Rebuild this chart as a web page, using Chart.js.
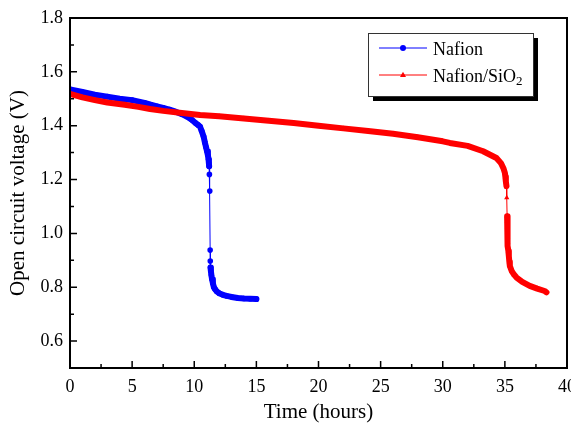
<!DOCTYPE html>
<html>
<head>
<meta charset="utf-8">
<script src="https://cdn.jsdelivr.net/npm/chart.js@4.4.1/dist/chart.umd.min.js"></script>
<style>
  html, body { margin: 0; padding: 0; background: #fff; }
  #wrap { width: 571px; height: 425px; }
</style>
</head>
<body>
<div id="wrap"><canvas id="c" width="571" height="425"></canvas></div>
<script>
/* OCV 放電曲線 — Nafion vs Nafion/SiO2 */

const nafionTime = [0, 1, 2, 3, 4, 5, 6, 6.5, 7, 7.5, 8, 8.5, 9, 9.4, 9.8, 10.1, 10.3, 10.46, 10.6, 10.75,
  10.86, 10.95, 11.03, 11.1, 11.15, 11.18, 11.2, 11.22, 11.25, 11.28, 11.29, 11.31, 11.34, 11.38, 11.43,
  11.5, 11.58, 11.67, 11.8, 12.0, 12.3, 12.6, 13.0, 13.5, 14.0, 14.5, 15.0];
const nafionVolt = [1.535, 1.525, 1.515, 1.508, 1.5, 1.495, 1.485, 1.478, 1.472, 1.466, 1.46, 1.452, 1.443,
  1.434, 1.422, 1.41, 1.403, 1.397, 1.38, 1.36, 1.337, 1.32, 1.305, 1.29, 1.275, 1.26, 1.249, 1.219, 1.157,
  0.938, 0.897, 0.873, 0.86, 0.845, 0.83, 0.815, 0.8, 0.793, 0.785, 0.778, 0.772, 0.768, 0.764, 0.76, 0.758,
  0.757, 0.756];

const sio2Time = [0, 1, 2, 3, 4.4, 5.5, 6.44, 7.5, 9, 10.46, 12, 14, 16, 18, 20, 22, 24, 26, 28, 30, 30.57,
  32, 33.25, 34.32, 34.7, 34.9, 35.0, 35.04, 35.08, 35.13, 35.15, 35.18, 35.19, 35.2, 35.21, 35.22, 35.23,
  35.25, 35.28, 35.32, 35.36, 35.4, 35.55, 35.75, 35.94, 36.4, 37.0, 37.6, 38.2, 38.35];
const sio2Volt = [1.518, 1.505, 1.495, 1.486, 1.478, 1.47, 1.462, 1.455, 1.447, 1.44, 1.435, 1.427, 1.418,
  1.41, 1.4, 1.39, 1.38, 1.37, 1.357, 1.342, 1.336, 1.325, 1.305, 1.28, 1.26, 1.24, 1.225, 1.21, 1.192, 1.175,
  1.132, 1.064, 1.044, 1.025, 1.005, 0.985, 0.968, 0.953, 0.935, 0.915, 0.895, 0.879, 0.86, 0.846, 0.836,
  0.82, 0.805, 0.795, 0.786, 0.781];

const xTicks = [0, 5, 10, 15, 20, 25, 30, 35, 40];
const yTicks = [0.6, 0.8, 1.0, 1.2, 1.4, 1.6, 1.8];

const SERIF = "'Liberation Serif', 'Times New Roman', serif";
const BLUE = "#0000FF";
const RED = "#FF0000";

function toPoints(xs, ys) {
  return xs.map((x, i) => ({ x, y: ys[i] }));
}

// 急降下区間（ほぼ垂直）は細線、それ以外は点が密集した太い帯に見せる
function segWidth(xs, ys) {
  return (ctx) => {
    const dy = Math.abs(ys[ctx.p1DataIndex] - ys[ctx.p0DataIndex]);
    const dx = Math.abs(xs[ctx.p1DataIndex] - xs[ctx.p0DataIndex]);
    return dy > 0.021 && dx < 0.1 ? 1 : 6;
  };
}

function drawMarker(ctx, style, x, y, r, color) {
  ctx.fillStyle = color;
  ctx.beginPath();
  if (style === "triangle") {
    ctx.moveTo(x, y - r * 1.1);
    ctx.lineTo(x + r, y + r * 0.7);
    ctx.lineTo(x - r, y + r * 0.7);
    ctx.closePath();
  } else {
    ctx.arc(x, y, r, 0, Math.PI * 2);
  }
  ctx.fill();
}

const framePlugin = {
  id: "frame",
  afterDraw(chart) {
    const { ctx, chartArea: a, scales } = chart;
    ctx.save();
    ctx.strokeStyle = "#000";
    ctx.lineWidth = 2;
    ctx.strokeRect(a.left, a.top, a.right - a.left, a.bottom - a.top);
    ctx.lineWidth = 1.5;
    ctx.beginPath();
    for (let v = 0; v <= 40; v += 2.5) {
      const px = scales.x.getPixelForValue(v);
      const len = v % 5 === 0 ? 7 : 4;
      ctx.moveTo(px, a.bottom);
      ctx.lineTo(px, a.bottom - len);
    }
    for (let k = 5; k <= 18; k++) {
      const py = scales.y.getPixelForValue(k / 10);
      const len = k % 2 === 0 ? 7 : 4;
      ctx.moveTo(a.left, py);
      ctx.lineTo(a.left + len, py);
    }
    ctx.stroke();
    ctx.restore();
  },
};

const legendPlugin = {
  id: "boxLegend",
  afterDraw(chart) {
    const ctx = chart.ctx;
    const bx = 368, by = 33, bw = 165, bh = 63;
    ctx.save();
    ctx.fillStyle = "#000";
    ctx.fillRect(bx + 5, by + 5, bw, bh);
    ctx.fillStyle = "#fff";
    ctx.fillRect(bx, by, bw, bh);
    ctx.strokeStyle = "#333";
    ctx.lineWidth = 1;
    ctx.strokeRect(bx + 0.5, by + 0.5, bw, bh);

    const rows = [
      { label: "Nafion", color: BLUE, style: "circle", y: 48 },
      { label: "Nafion/SiO", sub: "2", color: RED, style: "triangle", y: 75 },
    ];
    for (const r of rows) {
      ctx.strokeStyle = r.color;
      ctx.lineWidth = 1;
      ctx.beginPath();
      ctx.moveTo(379, r.y);
      ctx.lineTo(427, r.y);
      ctx.stroke();
      drawMarker(ctx, r.style, 403, r.y, 3, r.color);
      ctx.fillStyle = "#000";
      ctx.font = "18px " + SERIF;
      ctx.textBaseline = "middle";
      ctx.textAlign = "left";
      ctx.fillText(r.label, 433, r.y + 2);
      if (r.sub) {
        const w = ctx.measureText(r.label).width;
        ctx.font = "13px " + SERIF;
        ctx.fillText(r.sub, 433 + w, r.y + 7);
      }
    }
    ctx.restore();
  },
};

new Chart(document.getElementById("c"), {
  type: "line",
  data: {
    datasets: [
      {
        label: "Nafion/SiO₂",
        data: toPoints(sio2Time, sio2Volt),
        borderColor: RED,
        backgroundColor: RED,
        pointStyle: "triangle",
        pointRadius: 3,
        pointBorderWidth: 0,
        borderCapStyle: "round",
        borderJoinStyle: "round",
        segment: { borderWidth: segWidth(sio2Time, sio2Volt) },
        order: 0,
      },
      {
        label: "Nafion",
        data: toPoints(nafionTime, nafionVolt),
        borderColor: BLUE,
        backgroundColor: BLUE,
        pointStyle: "circle",
        pointRadius: 2.8,
        pointBorderWidth: 0,
        borderCapStyle: "round",
        borderJoinStyle: "round",
        segment: { borderWidth: segWidth(nafionTime, nafionVolt) },
        order: 1,
      },
    ],
  },
  options: {
    responsive: false,
    animation: false,
    layout: { padding: { top: 18, right: 4, left: 2, bottom: 0 } },
    plugins: { legend: { display: false }, tooltip: { enabled: false } },
    scales: {
      x: {
        type: "linear",
        min: 0,
        max: 40,
        afterBuildTicks: (s) => { s.ticks = xTicks.map((v) => ({ value: v })); },
        grid: { display: false, drawTicks: false },
        border: { display: false },
        ticks: { color: "#000", padding: 8, font: { family: SERIF, size: 18 }, maxRotation: 0 },
        title: { display: true, text: "Time (hours)", color: "#000", font: { family: SERIF, size: 21 }, padding: { top: 4, bottom: 0 } },
        afterFit: (s) => { s.height = 57; s.paddingRight = 0; s.paddingLeft = 0; },
      },
      y: {
        min: 0.5,
        max: 1.8,
        afterBuildTicks: (s) => { s.ticks = yTicks.map((v) => ({ value: v })); },
        grid: { display: false, drawTicks: false },
        border: { display: false },
        ticks: { color: "#000", padding: 7, font: { family: SERIF, size: 18 }, callback: (v) => v.toFixed(1) },
        title: { display: true, text: "Open circuit voltage (V)", color: "#000", font: { family: SERIF, size: 21 }, padding: { bottom: 0 } },
        afterFit: (s) => { s.width = 68; s.paddingTop = 0; s.paddingBottom = 0; },
      },
    },
  },
  plugins: [framePlugin, legendPlugin],
});
</script>
</body>
</html>
